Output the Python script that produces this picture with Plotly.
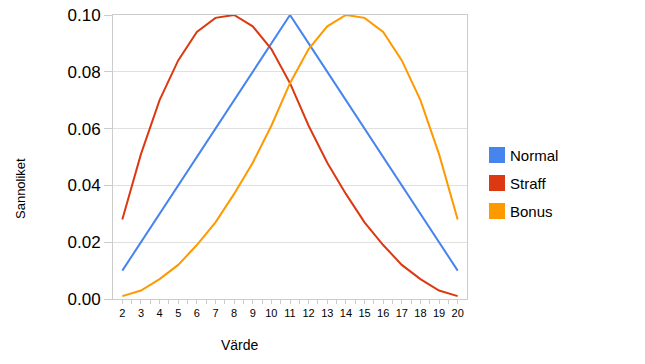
import plotly.graph_objects as go

x_values = list(range(2, 21))
normal = [0.01, 0.02, 0.03, 0.04, 0.05, 0.06, 0.07, 0.08, 0.09, 0.10,
          0.09, 0.08, 0.07, 0.06, 0.05, 0.04, 0.03, 0.02, 0.01]
straff = [0.028, 0.051, 0.070, 0.084, 0.094, 0.099, 0.100, 0.096, 0.088, 0.076,
          0.061, 0.048, 0.037, 0.027, 0.019, 0.012, 0.007, 0.003, 0.001]
bonus = [0.001, 0.003, 0.007, 0.012, 0.019, 0.027, 0.037, 0.048, 0.061, 0.076,
         0.088, 0.096, 0.100, 0.099, 0.094, 0.084, 0.070, 0.051, 0.028]
y_ticks = [0.00, 0.02, 0.04, 0.06, 0.08, 0.10]

series = [("Normal", normal, "#4684EE"), ("Straff", straff, "#DC3912"), ("Bonus", bonus, "#FF9900")]

W, H = 645, 364
L, T = 113, 15
pw, ph = 354, 284
R = W - L - pw
B = H - T - ph

def px(xp):
    return (xp - L) / pw

def py(yp):
    return (T + ph - yp) / ph

fig = go.Figure()
for name, vals, col in series:
    fig.add_trace(go.Scatter(x=x_values, y=vals, mode="lines", name=name,
                             line=dict(color=col, width=2), showlegend=False,
                             cliponaxis=False))

font = "Liberation Sans, Arial, sans-serif"
shapes = []
annotations = [
    dict(text="Värde", x=px(240), y=py(345), xref="paper", yref="paper", showarrow=False,
         font=dict(size=14), xanchor="center", yanchor="middle"),
    dict(text="Sannoliket", x=px(20), y=py(188), xref="paper", yref="paper", showarrow=False,
         font=dict(size=13), textangle=-90, xanchor="center", yanchor="middle"),
]
for i, (name, vals, col) in enumerate(series):
    cy = 155 + 28 * i
    shapes.append(dict(type="rect", xref="paper", yref="paper",
                       x0=px(489), x1=px(505), y0=py(cy - 8), y1=py(cy + 8),
                       fillcolor=col, line=dict(width=0)))
    annotations.append(dict(text=name, x=px(508), y=py(cy), xref="paper", yref="paper",
                            showarrow=False, xanchor="left", yanchor="middle",
                            font=dict(size=15)))

fig.update_layout(
    width=W, height=H,
    margin=dict(l=L, r=R, t=T, b=B, autoexpand=False),
    plot_bgcolor="white", paper_bgcolor="white",
    font=dict(family=font, color="#000000"),
    showlegend=False,
    xaxis=dict(range=[1.5, 20.5], tickmode="array", tickvals=x_values,
               ticktext=[str(v) for v in x_values],
               tickfont=dict(size=11), showgrid=False, zeroline=False,
               showline=True, linecolor="#cccccc", linewidth=1, mirror=True,
               ticks="outside", ticklen=4, tickcolor="#cccccc",
               ticklabeloverflow="allow",
               minor=dict(tickmode="array", tickvals=[v + 0.5 for v in x_values[:-1]],
                          ticks="outside", ticklen=4, tickcolor="#cccccc")),
    yaxis=dict(range=[0, 0.1], tickmode="array", tickvals=y_ticks,
               ticktext=[f"{v:.2f}" for v in y_ticks], tickfont=dict(size=17),
               showgrid=True, gridcolor="#e0e0e0", zeroline=False,
               showline=True, linecolor="#cccccc", linewidth=1, mirror=True,
               ticks="outside", ticklen=8, tickcolor="#cccccc",
               ticklabeloverflow="allow"),
    shapes=shapes,
    annotations=annotations,
)
fig.write_html("out.html", config={"displayModeBar": False},
               post_script="document.body.style.margin='0';")
